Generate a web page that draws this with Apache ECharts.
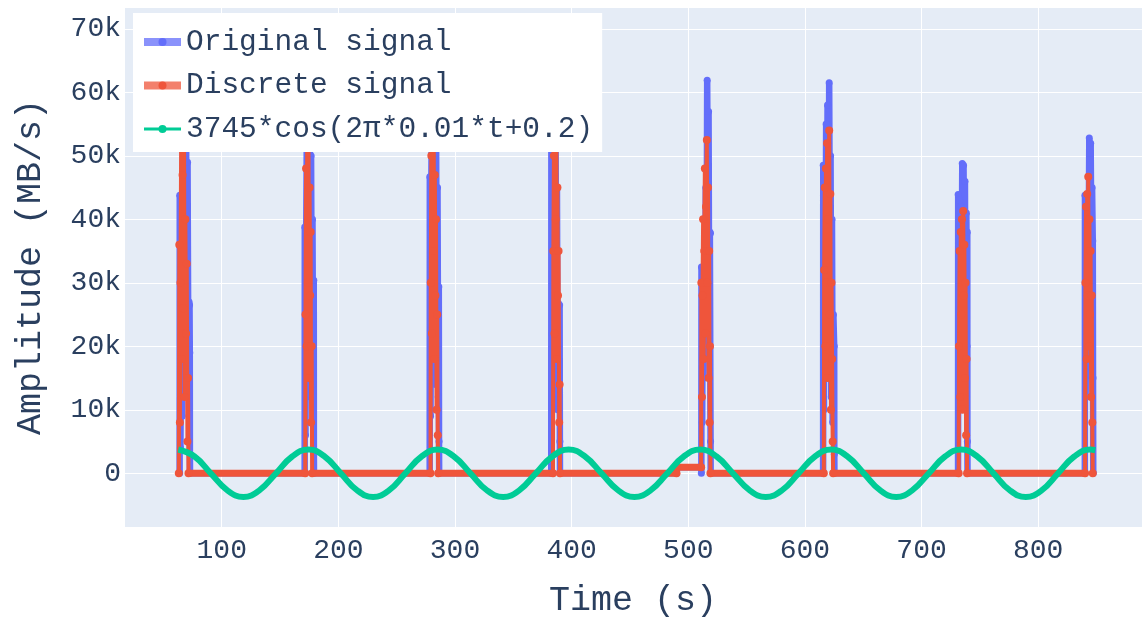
<!DOCTYPE html>
<html>
<head>
<meta charset="utf-8">
<script src="https://cdn.jsdelivr.net/npm/echarts@6/dist/echarts.min.js"></script>
<style>
html,body{margin:0;padding:0;background:#fff;}
#chart{width:1142px;height:620px;}
</style>
</head>
<body>
<div id="chart"></div>
<script>
// ---- data ----
const originalSignal = [
  [63.9,0],[64.0,43800],[64.6,4000],[65.5,38000],[66.1,9000],[66.8,63000],[67.4,22000],[68.1,68500],[68.7,35000],[69.4,58000],[70.0,14000],[70.7,49000],[71.3,21000],[71.9,27000],[72.4,26500],[72.6,19000],[72.7,3000],[72.8,0],
  [171.1,0],[171.2,38800],[171.8,6000],[172.4,37000],[173.1,58000],[173.7,15000],[174.3,66000],[174.9,28000],[175.5,61000],[176.1,12000],[176.6,50000],[177.2,22000],[177.8,40000],[178.3,14000],[178.9,30400],[179.0,3000],[179.1,0],
  [278.3,0],[278.4,46700],[279.0,9000],[279.6,44000],[280.3,60000],[280.9,20000],[281.5,67000],[282.1,30000],[282.7,58000],[283.3,14000],[283.8,52000],[284.4,25000],[285.0,45000],[285.6,12000],[286.1,29400],[286.3,5000],[286.4,0],
  [382.5,0],[382.6,52000],[383.2,22000],[383.8,63000],[384.5,30000],[385.1,67000],[385.7,16000],[386.2,55000],[386.8,24000],[387.4,45000],[388.0,10000],[388.6,26800],[389.2,12000],[389.7,26500],[389.9,5000],[390.0,0],
  [489.9,0],[490.0,950],[511.1,950],
  [511.2,0],[511.3,32500],[511.9,8000],[512.5,31000],[513.1,15000],[513.7,30000],[514.3,20000],[515.0,45000],[515.6,25000],[516.2,61900],[516.8,40000],[517.4,57000],[518.0,18000],[518.5,38000],[519.0,37800],[519.1,5000],[519.2,0],
  [615.6,0],[615.7,48500],[616.3,10000],[616.9,47000],[617.5,22000],[618.2,55000],[618.8,30000],[619.4,58000],[620.1,15000],[620.8,61500],[621.4,35000],[622.0,50000],[622.6,12000],[623.2,40000],[623.8,8000],[624.4,25000],[625.1,20000],[625.2,3000],[625.3,0],
  [731.3,0],[731.4,43900],[732.0,10000],[732.6,43000],[733.2,20000],[733.8,42000],[734.4,30000],[734.9,48800],[735.5,15000],[736.0,48500],[736.6,30000],[737.2,46000],[737.8,12000],[738.4,41000],[739.0,20000],[739.2,38000],[739.3,5000],[739.4,0],
  [840.0,0],[840.1,43800],[840.7,12000],[841.3,43000],[841.9,25000],[842.5,42000],[843.1,30000],[843.8,52800],[844.4,20000],[845.0,52000],[845.6,35000],[846.2,45000],[846.8,36600],[847.0,15000],[847.2,0]
];

const discreteSignal = [
  [63.2,0],[63.6,36000],[64.1,8000],[64.6,30000],[65.2,52000],[65.8,18000],[66.4,47000],[67.0,26000],[67.6,60000],[68.2,12000],[68.8,40000],[69.4,22000],[70.0,33000],[70.6,5000],[71.1,15000],[71.5,0],
  [171.6,0],[171.8,25000],[172.3,48000],[172.8,20000],[173.3,55000],[173.8,30000],[174.3,62000],[174.8,15000],[175.3,45000],[175.8,28000],[176.2,38000],[176.6,8000],[177.1,20000],[177.5,0],
  [279.0,0],[279.2,30000],[279.7,50000],[280.2,22000],[280.7,62000],[281.2,35000],[281.7,56000],[282.2,18000],[282.7,47000],[283.2,28000],[283.7,40000],[284.2,10000],[284.7,25000],[285.2,6000],[285.6,0],
  [384.0,0],[384.3,35000],[384.8,50000],[385.3,22000],[385.8,58000],[386.3,40000],[386.8,62000],[387.3,18000],[387.8,45000],[388.3,28000],[388.8,35000],[389.3,8000],[389.7,14000],[390.0,0],
  [489.9,0],[490.0,950],
  [511.0,950],[511.2,30000],[511.7,12000],[512.2,28000],[512.7,40000],[513.2,18000],[513.7,35000],[514.2,48000],[514.7,22000],[515.2,42000],[515.9,52500],[516.4,30000],[516.9,45000],[517.4,15000],[517.9,35000],[518.3,8000],[518.6,20000],[519.0,0],
  [616.2,0],[616.5,32000],[617.0,45000],[617.5,20000],[618.0,48000],[618.5,30000],[619.0,52000],[619.5,15000],[620.0,40000],[620.8,54000],[621.3,25000],[621.8,44000],[622.3,10000],[622.8,30000],[623.3,18000],[623.8,5000],[624.2,0],
  [731.8,0],[732.1,20000],[732.6,35000],[733.1,12000],[733.6,38000],[734.1,25000],[734.6,40000],[735.1,10000],[735.7,41300],[736.2,28000],[736.7,36000],[737.2,15000],[737.7,30000],[738.2,6000],[738.6,18000],[739.0,0],
  [840.2,0],[840.5,30000],[841.0,42000],[841.5,18000],[842.0,44000],[842.5,28000],[842.9,46700],[843.4,20000],[843.9,40000],[844.4,25000],[844.9,35000],[845.4,12000],[845.9,28000],[846.4,8000],[846.8,0]
];

// fitted cosine, read at peaks / troughs / crossings / midpoints
const cosineFit = [
  [62.7,3745],[76.7,2648],[90.6,0],[104.6,-2648],[118.6,-3745],[132.5,-2648],[146.5,0],[160.4,2648],
  [174.4,3745],[188.2,2648],[202.1,0],[215.9,-2648],[229.8,-3745],[243.6,-2648],[257.4,0],[271.3,2648],
  [285.1,3745],[299.1,2648],[313.2,0],[327.2,-2648],[341.3,-3745],[355.3,-2648],[369.3,0],[383.4,2648],
  [397.4,3745],[411.5,2648],[425.6,0],[439.7,-2648],[453.8,-3745],[467.9,-2648],[482.0,0],[496.1,2648],
  [510.2,3745],[524.3,2648],[538.3,0],[552.4,-2648],[566.4,-3745],[580.5,-2648],[594.5,0],[608.6,2648],
  [622.6,3745],[636.5,2648],[650.5,0],[664.4,-2648],[678.3,-3745],[692.2,-2648],[706.2,0],[720.1,2648],
  [734.0,3745],[747.8,2648],[761.7,0],[775.5,-2648],[789.4,-3745],[803.2,-2648],[817.0,0],[830.9,2648],
  [844.7,3745],[849.0,3635]
];

const seriesNames = ['Original signal', 'Discrete signal', '3745*cos(2\u03c0*0.01*t+0.2)'];
const xRange = [16.2, 889];
const yRange = [-8458, 73442];

// the quiet (near-zero) stretches of the discrete signal, drawn as its thick baseline
const discreteBaseline = discreteSignal.map(p => (p[1] <= 1000 ? p : [p[0], '-']));

// ---- chart ----
const FONT = '"Liberation Mono", "DejaVu Sans Mono", monospace';
const TXT = '#2a3f5f';
const BLUE = '#636EFA', RED = '#EF553B', GREEN = '#00CC96';
const chart = echarts.init(document.getElementById('chart'), null, {renderer: 'canvas'});
chart.setOption({
  animation: false,
  backgroundColor: '#ffffff',
  textStyle: {fontFamily: FONT},
  grid: {left: 124, right: 0, top: 7, bottom: 93, show: true, backgroundColor: '#E5ECF6', borderWidth: 0,
    containLabel: false, outerBoundsMode: 'none'},
  legend: {
    orient: 'vertical', left: 133, top: 13, z: 10,
    backgroundColor: '#ffffff',
    padding: [14, 9, 8, 7],
    itemGap: 13.5, itemWidth: 37, itemHeight: 10,
    textStyle: {fontFamily: FONT, fontSize: 29.5, color: TXT},
    data: [
      {name: seriesNames[0], lineStyle: {width: 8, opacity: 0.75}},
      {name: seriesNames[1], lineStyle: {width: 8, opacity: 0.75}},
      {name: seriesNames[2], lineStyle: {width: 3}}
    ]
  },
  xAxis: {
    type: 'value', min: xRange[0], max: xRange[1], splitNumber: 9,
    name: 'Time (s)', nameLocation: 'middle', nameGap: 56,
    nameTextStyle: {fontFamily: FONT, fontSize: 35, color: TXT},
    axisLine: {show: false}, axisTick: {show: false},
    axisLabel: {showMinLabel: false, showMaxLabel: false, fontFamily: FONT, fontSize: 28, color: TXT, margin: 10},
    splitLine: {show: true, lineStyle: {color: '#ffffff', width: 1}}
  },
  yAxis: {
    type: 'value', min: yRange[0], max: yRange[1], splitNumber: 8,
    name: 'Amplitude (MB/s)', nameLocation: 'middle', nameGap: 76,
    nameTextStyle: {fontFamily: FONT, fontSize: 35, color: TXT},
    axisLine: {show: false}, axisTick: {show: false},
    axisLabel: {showMinLabel: false, showMaxLabel: false, fontFamily: FONT, fontSize: 28, color: TXT, margin: 3,
      formatter: v => (Math.abs(v) < 1e-9 ? '0' : (v / 1000) + 'k')},
    splitLine: {show: true, lineStyle: {color: '#ffffff', width: 1}}
  },
  series: [
    {name: seriesNames[0], type: 'line', data: originalSignal, color: BLUE,
      symbol: 'circle', symbolSize: 7, showSymbol: true, lineStyle: {width: 6.5}, emphasis: {disabled: true}, z: 2},
    {name: seriesNames[1], type: 'line', data: discreteBaseline, color: RED,
      symbol: 'circle', symbolSize: 8, showSymbol: false, lineStyle: {width: 7}, emphasis: {disabled: true}, z: 3},
    {name: seriesNames[1], type: 'line', data: discreteSignal, color: RED,
      symbol: 'circle', symbolSize: 8, showSymbol: true, lineStyle: {width: 4}, emphasis: {disabled: true}, z: 3},
    {name: seriesNames[2], type: 'line', data: cosineFit, color: GREEN, smooth: 0.45,
      symbol: 'circle', symbolSize: 8, showSymbol: false, lineStyle: {width: 6}, emphasis: {disabled: true}, z: 4}
  ]
});
</script>
</body>
</html>
